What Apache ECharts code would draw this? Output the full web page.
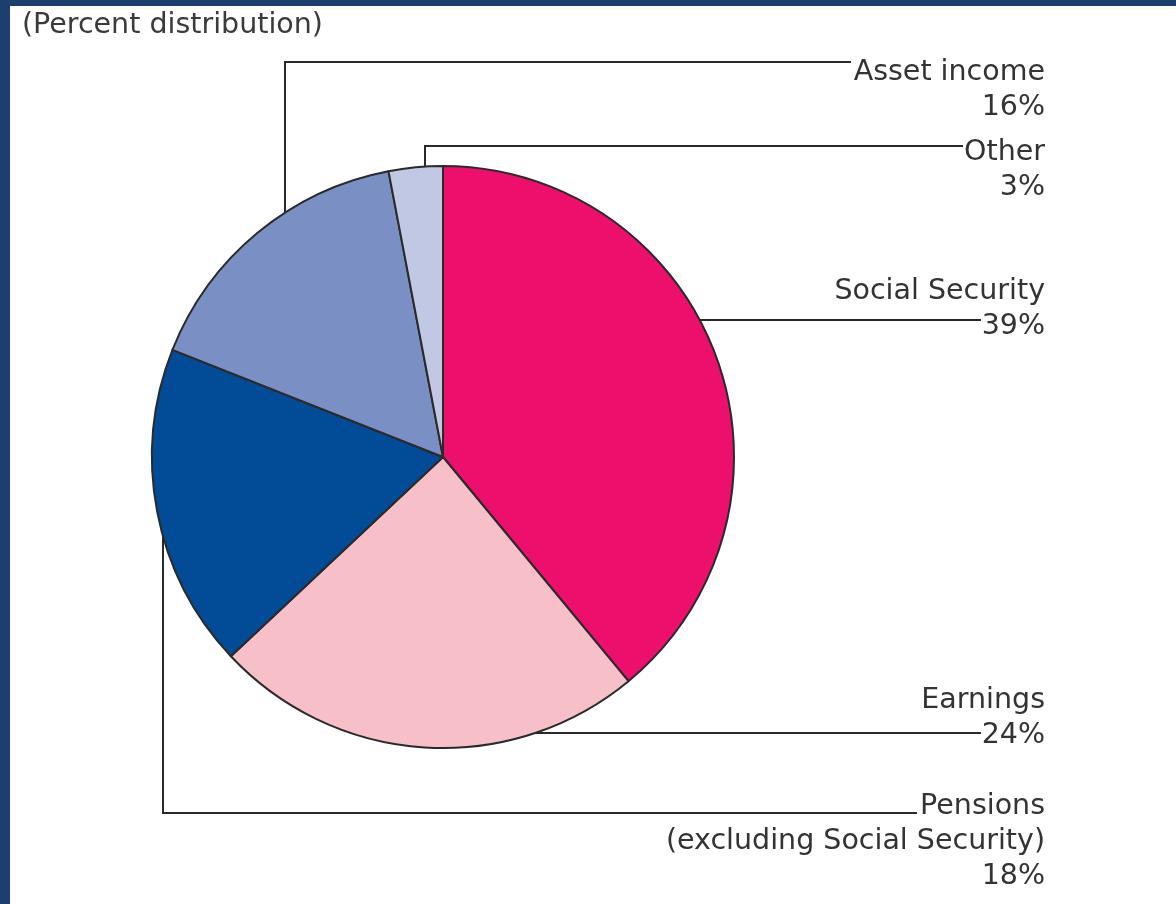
<!DOCTYPE html>
<html>
<head>
<meta charset="utf-8">
<script src="https://cdn.jsdelivr.net/npm/echarts@6/dist/echarts.min.js"></script>
<style>
html,body{margin:0;padding:0;background:#fff;}
#chart{width:1176px;height:904px;}
</style>
</head>
<body>
<div id="chart"></div>
<script>
// ---- data ----
const categories = ['Social Security', 'Earnings', 'Pensions', 'Asset income', 'Other'];
const subtitles = ['', '', '(excluding Social Security)', '', ''];
const values = [39, 24, 18, 16, 3];
const colors = ['#EC0F6B', '#F7BFC8', '#024C97', '#7A8FC3', '#C0C8E3'];
const subtitleText = '(Percent distribution)';

// ---- layout (positions only) ----
const CX = 443, CY = 457, R = 291;
const LABEL_RIGHT = 1045;
const LINE_H = 35;
const leaders = [
  {type: 'hr', y: 320, endX: 981, labelTop: 274},
  {type: 'hb', y: 733, endX: 981, labelTop: 683},
  {type: 'vb', x: 163, y: 813, endX: 917, labelTop: 789},
  {type: 'vt', x: 285, y: 62, endX: 851, labelTop: 55},
  {type: 'vt', x: 425, y: 146, endX: 963, labelTop: 135}
];

const FONT = '"DejaVu Sans", "Open Sans", sans-serif';
const chart = echarts.init(document.getElementById('chart'), null, {renderer: 'canvas'});

function edgePoint(ld) {
  if (ld.type === 'hr' || ld.type === 'hb') {
    const dy = ld.y - CY;
    return [CX + Math.sqrt(R * R - dy * dy), ld.y];
  }
  const dx = ld.x - CX;
  const h = Math.sqrt(R * R - dx * dx);
  return [ld.x, ld.type === 'vt' ? CY - h : CY + h];
}

const option = {
  backgroundColor: '#ffffff',
  animation: false,
  graphic: [
    {type: 'rect', left: 0, top: 0, shape: {width: 1176, height: 6}, style: {fill: '#1C3F6F'}, silent: true},
    {type: 'rect', left: 0, top: 0, shape: {width: 10, height: 904}, style: {fill: '#1C3F6F'}, silent: true},
    {type: 'text', left: 22, top: 11, style: {text: subtitleText, fontSize: 28.5, fontFamily: FONT, fill: '#3a3a3a'}}
  ],
  series: [{
    type: 'pie',
    center: [CX, CY],
    radius: R,
    startAngle: 90,
    clockwise: true,
    avoidLabelOverlap: false,
    silent: true,
    itemStyle: {borderColor: '#2a2a2a', borderWidth: 2},
    data: categories.map((c, i) => ({
      name: c,
      value: values[i],
      itemStyle: {color: colors[i]}
    })),
    label: {
      show: true,
      position: 'outside',
      fontFamily: FONT,
      fontSize: 28.5,
      color: '#333333',
      lineHeight: LINE_H,
      align: 'right',
      formatter: p => {
        const sub = subtitles[p.dataIndex];
        return p.name + '\n' + (sub ? sub + '\n' : '') + p.value + '%';
      }
    },
    labelLine: {show: true, lineStyle: {color: '#2a2a2a', width: 2}},
    labelLayout: function (params) {
      const ld = leaders[params.dataIndex];
      const e = edgePoint(ld);
      let pts;
      if (ld.type === 'hr' || ld.type === 'hb') {
        pts = [e, [(e[0] + ld.endX) / 2, ld.y], [ld.endX, ld.y]];
      } else {
        pts = [e, [ld.x, ld.y], [ld.endX, ld.y]];
      }
      return {
        x: LABEL_RIGHT,
        y: ld.labelTop,
        align: 'right',
        verticalAlign: 'top',
        labelLinePoints: pts
      };
    }
  }]
};
chart.setOption(option);
</script>
</body>
</html>
